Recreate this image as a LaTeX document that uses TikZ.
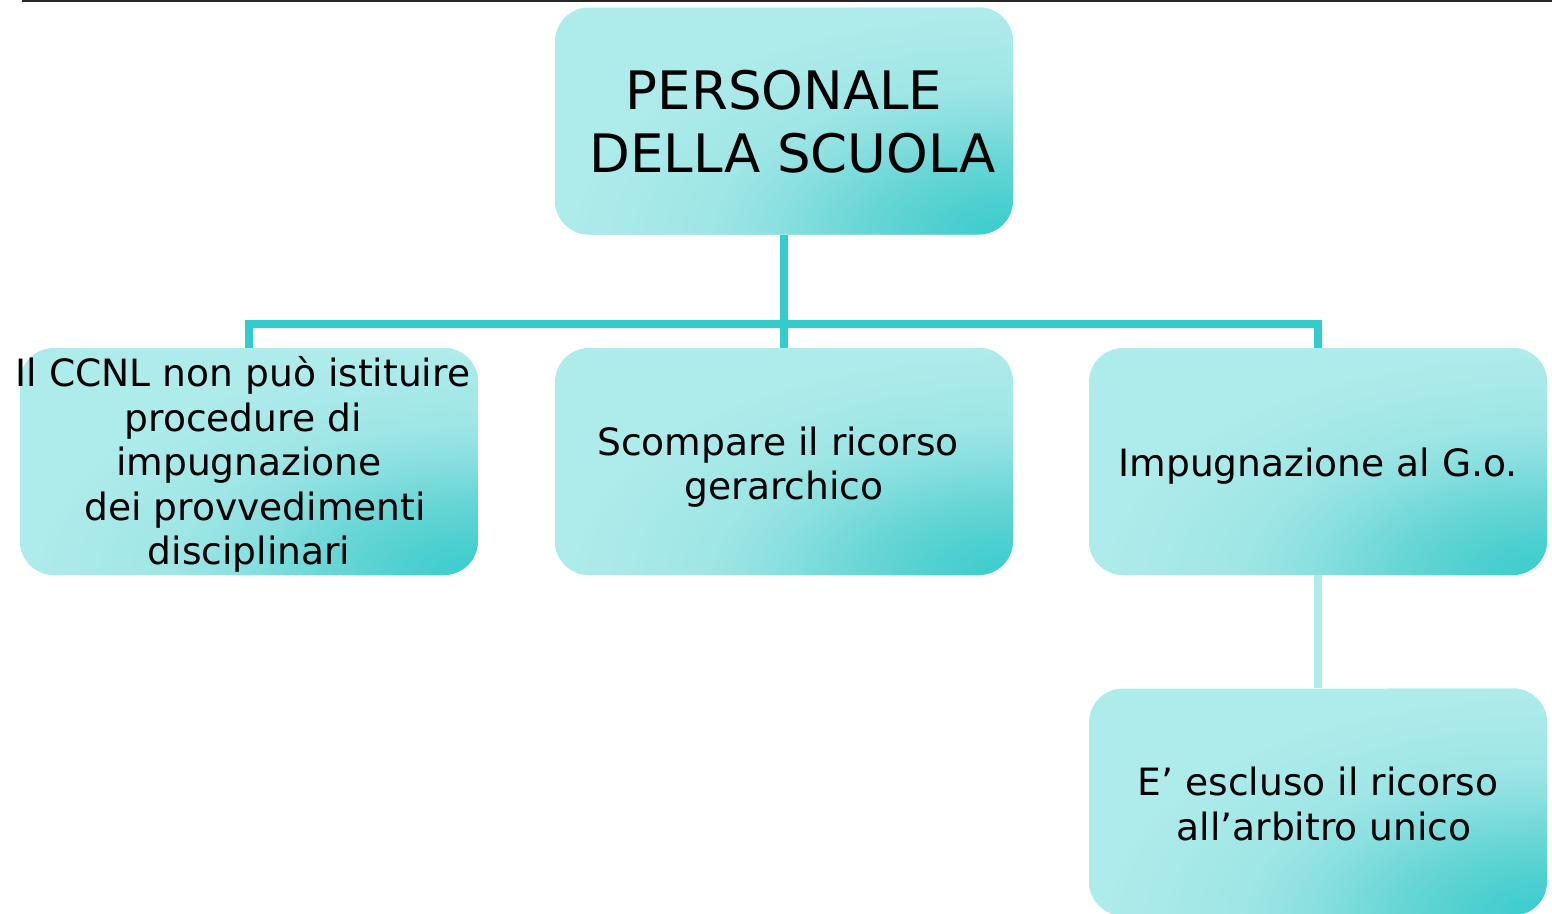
\documentclass[tikz,border=0pt]{standalone}
\usepackage{fontspec}
\setmainfont{DejaVu Sans}
\definecolor{treec}{HTML}{33CCCC}
\definecolor{ltc}{HTML}{AEEBEB}
\definecolor{sdk}{HTML}{38CCCC}
\definecolor{sa}{HTML}{4FD0D0}
\definecolor{sb}{HTML}{6AD6D6}
\definecolor{sc}{HTML}{8CE0E0}
\definecolor{sd}{HTML}{A0E6E6}
\pgfdeclareradialshading{boxshade}{\pgfpoint{0bp}{0bp}}{color(0bp)=(sdk); color(4bp)=(sa); color(8bp)=(sb); color(12.5bp)=(sc); color(16bp)=(sd); color(23bp)=(ltc); color(50bp)=(ltc)}
\newcommand\myspc{\hbox to .32em{}}
\newcommand\mylift[1]{\rule{0pt}{#1pt}}
\tikzset{
  box/.style={rounded corners=34pt, minimum width=458pt, minimum height=227pt,
    inner sep=0pt, align=center, font=\fontsize{37.6}{44.5}\selectfont, fill=ltc,
    path picture={\shade[shading=boxshade] (path picture bounding box.south east)
      ellipse [x radius=480pt, y radius=240pt];}},
  tree/.style={draw=treec, line width=8pt, line join=miter},
  sub/.style={draw=ltc, line width=8pt},
}
\begin{document}
\begin{tikzpicture}[x=1pt, y=-1pt]
\useasboundingbox (0,0) rectangle (1552,913);
\coordinate (tl) at (22,1);
\coordinate (tr) at (1552,1);
\draw[line width=2pt, black!85] (tl) -- (tr);

\node[box, font=\fontsize{53}{63}\selectfont] (top) at (784,121) {\mylift{41.7}PERSONALE\\\myspc DELLA SCUOLA};
\node[box] (left) at (249,461.5) {\mylift{36.6}\makebox[400pt]{Il CCNL non può istituire\myspc}\\procedure di\myspc\\impugnazione\\\myspc dei provvedimenti\\disciplinari};
\node[box] (mid) at (784,461.5) {\mylift{40}Scompare il ricorso\myspc\\gerarchico};
\node[box] (right) at (1318,461.5) {\mylift{38.6}Impugnazione al G.o.};
\node[box] (bot) at (1318,802) {\mylift{32.6}E’ escluso il ricorso\\\myspc all’arbitro unico};

\coordinate (j) at (784,324);
\draw[tree] (left.north) |- (j) -| (right.north);
\draw[tree] (top.south) -- (mid.north);
\draw[sub] (right.south) -- (bot.north);
\end{tikzpicture}
\end{document}
